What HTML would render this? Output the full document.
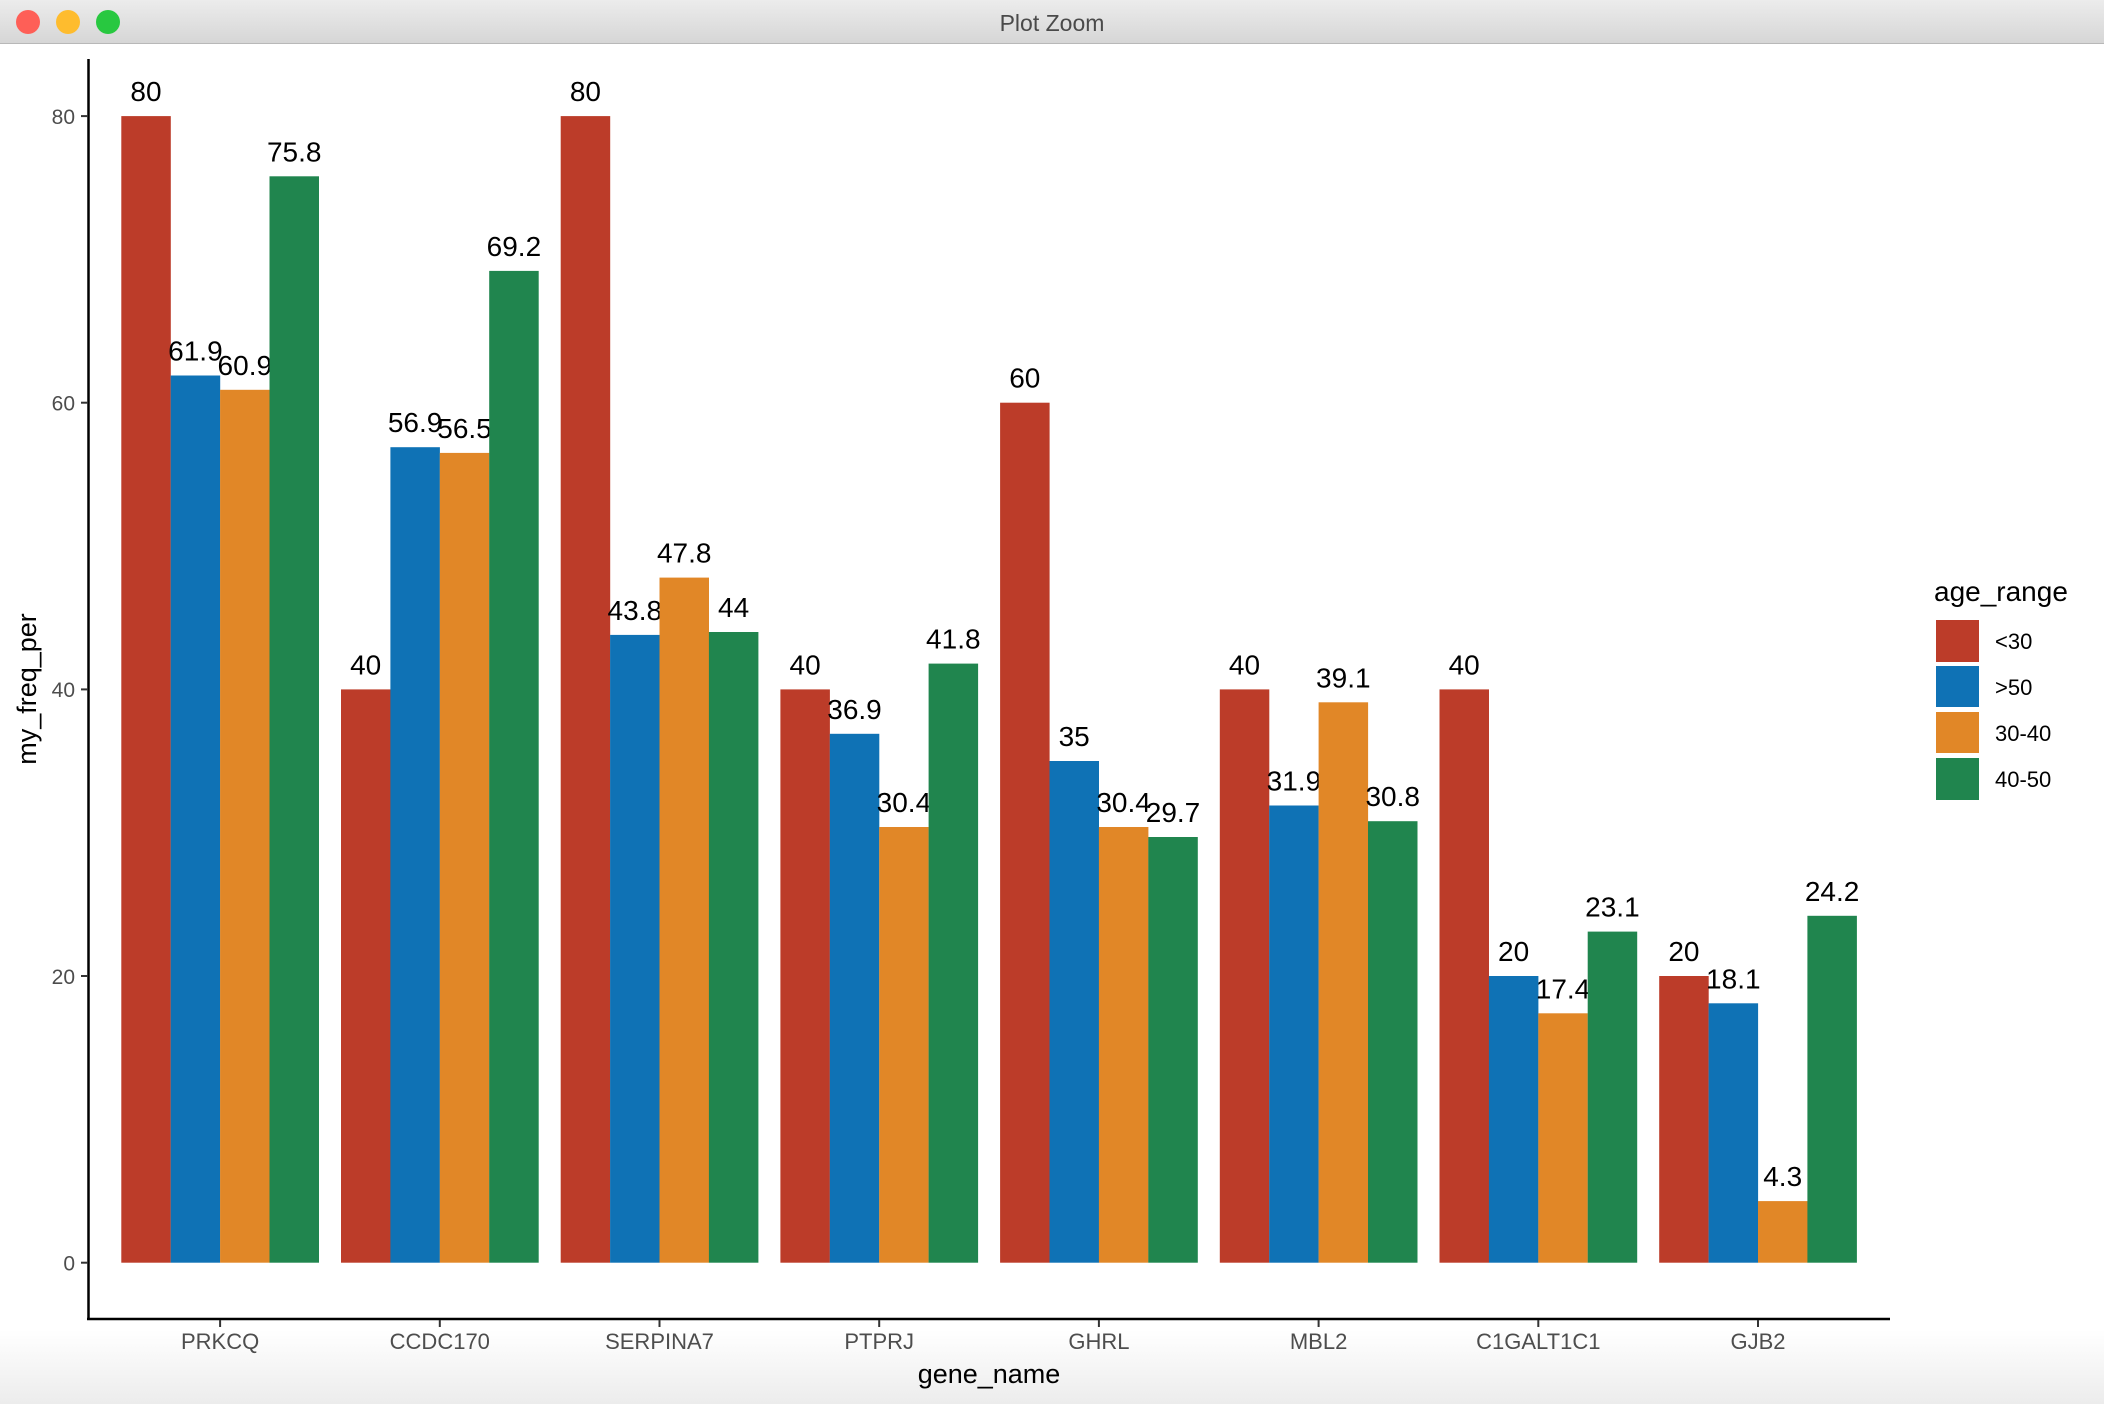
<!DOCTYPE html>
<html><head><meta charset="utf-8"><style>
html,body{margin:0;padding:0;background:#fff;}
body{width:2104px;height:1404px;overflow:hidden;position:relative;font-family:"Liberation Sans",Arial,sans-serif;}
#tb{position:absolute;left:0;top:0;width:2104px;height:43px;background:linear-gradient(#ececec,#d6d6d6);border-bottom:1px solid #b8b8b8;}
#tb .t{position:absolute;left:0;right:0;top:10px;text-align:center;font-size:23px;color:#4a4a4a;}
.dot{position:absolute;top:10px;width:24px;height:24px;border-radius:50%;}
#bot{position:absolute;left:0;top:1330px;width:2104px;height:74px;background:linear-gradient(#fff,#ececec);}
svg{position:absolute;left:0;top:0;}
.v{font-size:28px;text-anchor:middle;fill:#000;font-family:"Liberation Sans",Arial,sans-serif;}
.xt{font-size:22px;text-anchor:middle;fill:#4d4d4d;font-family:"Liberation Sans",Arial,sans-serif;}
.yt{font-size:21px;text-anchor:end;fill:#4d4d4d;font-family:"Liberation Sans",Arial,sans-serif;}
.r{fill:#bc3c29}.b{fill:#0f72b5}.o{fill:#e18727}.g{fill:#20854e}
</style></head><body>
<div id="tb"><div class="dot" style="left:16px;background:#fe5f57;"></div><div class="dot" style="left:56px;background:#febc2e;"></div><div class="dot" style="left:96px;background:#28c840;"></div><div class="t">Plot Zoom</div></div>
<div id="bot"></div>
<svg width="2104" height="1404" xmlns="http://www.w3.org/2000/svg">
<!-- PRKCQ -->
<rect class="r" x="121.3" y="116.1" width="49.5" height="1146.6"/><text class="v" x="146" y="101">80</text>
<rect class="b" x="170.7" y="375.5" width="49.5" height="887.2"/><text class="v" x="195.4" y="360.5">61.9</text>
<rect class="o" x="220.1" y="389.8" width="49.5" height="872.9"/><text class="v" x="244.8" y="374.8">60.9</text>
<rect class="g" x="269.5" y="176.3" width="49.5" height="1086.4"/><text class="v" x="294.2" y="161.3">75.8</text>
<!-- CCDC170 -->
<rect class="r" x="341.0" y="689.4" width="49.5" height="573.3"/><text class="v" x="365.7" y="674.4">40</text>
<rect class="b" x="390.4" y="447.2" width="49.5" height="815.5"/><text class="v" x="415.1" y="432.2">56.9</text>
<rect class="o" x="439.8" y="452.9" width="49.5" height="809.8"/><text class="v" x="464.5" y="437.9">56.5</text>
<rect class="g" x="489.2" y="270.9" width="49.5" height="991.8"/><text class="v" x="513.9" y="255.9">69.2</text>
<!-- SERPINA7 -->
<rect class="r" x="560.7" y="116.1" width="49.5" height="1146.6"/><text class="v" x="585.4" y="101">80</text>
<rect class="b" x="610.1" y="634.9" width="49.5" height="627.8"/><text class="v" x="634.8" y="619.9">43.8</text>
<rect class="o" x="659.5" y="577.6" width="49.5" height="685.1"/><text class="v" x="684.2" y="562.6">47.8</text>
<rect class="g" x="708.9" y="632.0" width="49.5" height="630.7"/><text class="v" x="733.6" y="617">44</text>
<!-- PTPRJ -->
<rect class="r" x="780.4" y="689.4" width="49.5" height="573.3"/><text class="v" x="805.1" y="674.4">40</text>
<rect class="b" x="829.8" y="733.8" width="49.5" height="528.9"/><text class="v" x="854.5" y="718.8">36.9</text>
<rect class="o" x="879.2" y="827.0" width="49.5" height="435.7"/><text class="v" x="903.9" y="812">30.4</text>
<rect class="g" x="928.6" y="663.6" width="49.5" height="599.1"/><text class="v" x="953.3" y="648.6">41.8</text>
<!-- GHRL -->
<rect class="r" x="1000.1" y="402.7" width="49.5" height="860"/><text class="v" x="1024.8" y="387.7">60</text>
<rect class="b" x="1049.5" y="761.0" width="49.5" height="501.7"/><text class="v" x="1074.2" y="746">35</text>
<rect class="o" x="1098.9" y="827.0" width="49.5" height="435.7"/><text class="v" x="1123.6" y="812">30.4</text>
<rect class="g" x="1148.3" y="837.0" width="49.5" height="425.7"/><text class="v" x="1173" y="822">29.7</text>
<!-- MBL2 -->
<rect class="r" x="1219.8" y="689.4" width="49.5" height="573.3"/><text class="v" x="1244.5" y="674.4">40</text>
<rect class="b" x="1269.2" y="805.5" width="49.5" height="457.2"/><text class="v" x="1293.9" y="790.5">31.9</text>
<rect class="o" x="1318.6" y="702.3" width="49.5" height="560.4"/><text class="v" x="1343.3" y="687.3">39.1</text>
<rect class="g" x="1368.0" y="821.2" width="49.5" height="441.5"/><text class="v" x="1392.7" y="806.2">30.8</text>
<!-- C1GALT1C1 -->
<rect class="r" x="1439.5" y="689.4" width="49.5" height="573.3"/><text class="v" x="1464.2" y="674.4">40</text>
<rect class="b" x="1488.9" y="976.0" width="49.5" height="286.7"/><text class="v" x="1513.6" y="961">20</text>
<rect class="o" x="1538.3" y="1013.3" width="49.5" height="249.4"/><text class="v" x="1563" y="998.3">17.4</text>
<rect class="g" x="1587.7" y="931.6" width="49.5" height="331.1"/><text class="v" x="1612.4" y="916.6">23.1</text>
<!-- GJB2 -->
<rect class="r" x="1659.2" y="976.0" width="49.5" height="286.7"/><text class="v" x="1683.9" y="961">20</text>
<rect class="b" x="1708.6" y="1003.3" width="49.5" height="259.4"/><text class="v" x="1733.3" y="988.3">18.1</text>
<rect class="o" x="1758.0" y="1201.1" width="49.5" height="61.6"/><text class="v" x="1782.7" y="1186.1">4.3</text>
<rect class="g" x="1807.4" y="915.8" width="49.5" height="346.9"/><text class="v" x="1832.1" y="900.8">24.2</text>

<!-- axes -->
<line x1="88.5" y1="59" x2="88.5" y2="1320" stroke="#000" stroke-width="2.5"/>
<line x1="87" y1="1319" x2="1890" y2="1319" stroke="#000" stroke-width="2.5"/>
<g stroke="#333" stroke-width="2">
<line x1="81" y1="116.1" x2="88" y2="116.1"/><line x1="81" y1="402.7" x2="88" y2="402.7"/><line x1="81" y1="689.4" x2="88" y2="689.4"/><line x1="81" y1="976.0" x2="88" y2="976.0"/><line x1="81" y1="1262.7" x2="88" y2="1262.7"/>
<line x1="220.1" y1="1320" x2="220.1" y2="1327"/><line x1="439.8" y1="1320" x2="439.8" y2="1327"/><line x1="659.5" y1="1320" x2="659.5" y2="1327"/><line x1="879.2" y1="1320" x2="879.2" y2="1327"/><line x1="1098.9" y1="1320" x2="1098.9" y2="1327"/><line x1="1318.6" y1="1320" x2="1318.6" y2="1327"/><line x1="1538.3" y1="1320" x2="1538.3" y2="1327"/><line x1="1758" y1="1320" x2="1758" y2="1327"/>
</g>
<text class="yt" x="75" y="124">80</text><text class="yt" x="75" y="410.5">60</text><text class="yt" x="75" y="697">40</text><text class="yt" x="75" y="984">20</text><text class="yt" x="75" y="1270.5">0</text>
<text class="xt" x="220.1" y="1349">PRKCQ</text><text class="xt" x="439.8" y="1349">CCDC170</text><text class="xt" x="659.5" y="1349">SERPINA7</text><text class="xt" x="879.2" y="1349">PTPRJ</text><text class="xt" x="1098.9" y="1349">GHRL</text><text class="xt" x="1318.6" y="1349">MBL2</text><text class="xt" x="1538.3" y="1349">C1GALT1C1</text><text class="xt" x="1758" y="1349">GJB2</text>
<text x="989" y="1383" font-size="27" text-anchor="middle" fill="#000" font-family="Liberation Sans, Arial, sans-serif">gene_name</text>
<text transform="translate(36,689) rotate(-90)" font-size="27" text-anchor="middle" fill="#000" font-family="Liberation Sans, Arial, sans-serif">my_freq_per</text>
<!-- legend -->
<text x="1934" y="601" font-size="28" fill="#000" font-family="Liberation Sans, Arial, sans-serif">age_range</text>
<rect class="r" x="1936" y="620" width="43" height="42"/>
<rect class="b" x="1936" y="666" width="43" height="41"/>
<rect class="o" x="1936" y="712" width="43" height="41"/>
<rect class="g" x="1936" y="758" width="43" height="42"/>
<g font-size="22" fill="#000" font-family="Liberation Sans, Arial, sans-serif">
<text x="1995" y="649">&lt;30</text><text x="1995" y="695">&gt;50</text><text x="1995" y="741">30-40</text><text x="1995" y="787">40-50</text>
</g>
</svg>
</body></html>
